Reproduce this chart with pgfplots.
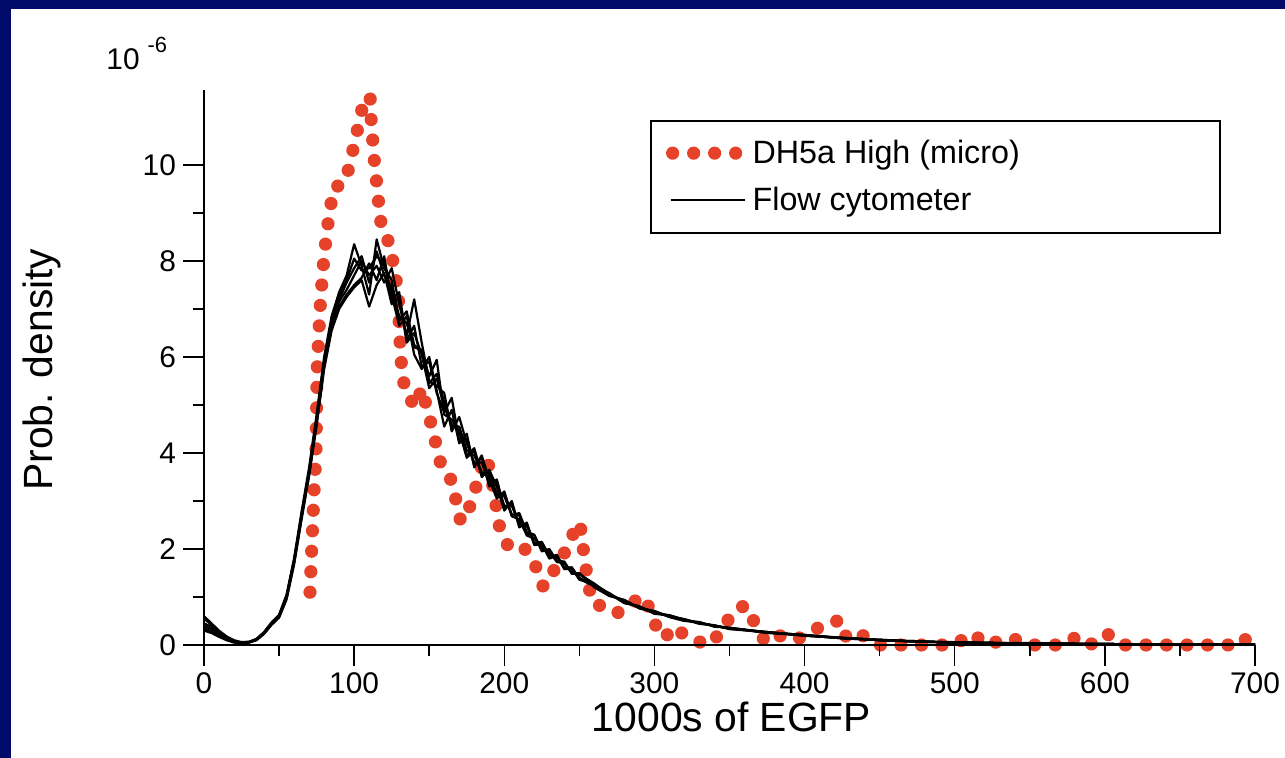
\documentclass[border=0pt]{standalone}
\usepackage{fontspec}
\setmainfont{Liberation Sans}
\usepackage{pgfplots}
\usepackage{pgfplotstable}
\pgfplotsset{compat=1.18}

\definecolor{navy}{RGB}{0,10,105}
\definecolor{dotred}{RGB}{230,66,41}

% flow cytometer runs: x (1000s of EGFP), six overlaid density curves (x 1e-6)
\pgfplotstableread{
x    a     b     c     d     e     f
0    0.55  0.40  0.30  0.60  0.45  0.35
5    0.42  0.33  0.25  0.45  0.38  0.28
10   0.28  0.22  0.17  0.30  0.24  0.20
15   0.16  0.13  0.10  0.18  0.14  0.12
20   0.08  0.07  0.05  0.10  0.07  0.06
25   0.05  0.04  0.04  0.06  0.05  0.04
30   0.06  0.05  0.06  0.07  0.06  0.05
35   0.12  0.11  0.13  0.12  0.12  0.10
40   0.26  0.24  0.27  0.25  0.25  0.23
45   0.46  0.43  0.47  0.45  0.44  0.42
50   0.62  0.58  0.63  0.60  0.61  0.57
55   1.02  0.97  1.05  1.00  1.01  0.95
60   1.78  1.70  1.80  1.74  1.76  1.68
65   2.72  2.65  2.78  2.70  2.68  2.62
70   3.62  3.55  3.70  3.60  3.58  3.52
75   4.72  4.60  4.80  4.68  4.70  4.58
80   5.90  5.78  6.00  5.85  5.92  5.75
85   6.72  6.60  6.85  6.65  6.75  6.55
90   7.20  7.05  7.35  7.15  7.25  7.00
95   7.55  7.30  7.70  7.40  7.60  7.25
100  7.85  7.50  8.35  7.70  8.05  7.45
105  8.10  7.65  7.90  8.00  7.80  7.60
110  7.55  7.95  7.30  7.70  7.85  7.05
115  8.20  7.60  8.45  7.90  8.10  7.50
120  7.70  8.10  7.85  7.55  7.95  7.75
125  7.45  7.20  7.60  7.85  7.30  7.10
130  6.85  7.35  6.75  7.10  6.65  7.25
135  6.70  6.35  6.95  6.45  6.85  6.30
140  6.20  6.65  6.25  7.20  6.05  6.50
145  6.15  5.80  6.10  6.30  5.75  6.05
150  5.45  5.90  5.60  5.50  6.00  5.35
155  5.65  5.25  5.94  5.40  5.30  5.55
160  5.05  4.85  4.80  5.25  4.55  4.95
165  4.55  5.15  4.70  4.45  4.90  4.60
170  4.55  4.25  4.45  4.75  4.20  4.45
175  4.05  4.30  3.95  4.20  4.40  3.90
180  3.95  3.75  4.10  3.80  3.70  4.05
185  3.60  3.90  3.55  3.80  3.95  3.50
190  3.55  3.30  3.60  3.35  3.45  3.65
195  3.15  3.45  3.10  3.40  3.05  3.30
200  3.10  2.85  3.15  2.90  3.20  2.80
205  2.72  2.95  2.68  2.90  2.70  3.00
210  2.70  2.48  2.62  2.52  2.75  2.45
215  2.32  2.52  2.28  2.48  2.35  2.55
220  2.28  2.10  2.22  2.12  2.30  2.08
225  1.98  2.12  2.03  2.15  1.95  2.10
230  1.97  1.83  1.94  1.86  2.00  1.80
235  1.76  1.88  1.73  1.84  1.75  1.86
240  1.72  1.60  1.70  1.62  1.74  1.58
245  1.50  1.62  1.53  1.60  1.48  1.59
250  1.48  1.38  1.47  1.40  1.50  1.36
260  1.26  1.22  1.28  1.24  1.20  1.27
270  1.05  1.08  1.03  1.06  1.02  1.07
280  0.92  0.88  0.93  0.90  0.94  0.87
290  0.78  0.80  0.76  0.79  0.77  0.81
300  0.70  0.66  0.69  0.67  0.71  0.65
310  0.60  0.62  0.59  0.61  0.58  0.62
320  0.53  0.51  0.54  0.52  0.50  0.53
330  0.46  0.47  0.45  0.46  0.48  0.44
340  0.40  0.39  0.41  0.40  0.38  0.41
350  0.35  0.36  0.34  0.35  0.36  0.33
375  0.27  0.26  0.27  0.25  0.26  0.27
400  0.20  0.21  0.19  0.20  0.21  0.20
425  0.15  0.14  0.15  0.14  0.15  0.14
450  0.10  0.11  0.10  0.10  0.11  0.10
475  0.07  0.07  0.08  0.07  0.07  0.08
500  0.05  0.05  0.05  0.06  0.05  0.05
550  0.03  0.03  0.03  0.03  0.04  0.03
600  0.02  0.02  0.02  0.02  0.02  0.02
650  0.01  0.01  0.01  0.01  0.01  0.01
700  0.01  0.01  0.01  0.01  0.01  0.01
}\flowdata

\begin{document}
\begin{tikzpicture}
\useasboundingbox (0,0) rectangle (642.5bp,379bp);
\fill[navy] (0,0) rectangle (642.5bp,379bp);
\fill[white] (5.5bp,0) rectangle (642.5bp,374.5bp);
\node[anchor=base west, inner sep=0, font=\fontsize{15}{18}\selectfont]
  at (53bp,344bp) {10\hspace{4bp}\raisebox{8.5bp}{\fontsize{11}{13}\selectfont -6}};
\begin{axis}[
  at={(102bp,56.5bp)}, anchor=south west,
  scale only axis, width=525.5bp, height=277.5bp,
  xmin=0, xmax=700, ymin=0, ymax=11.5625,
  axis x line=bottom, axis y line=left,
  axis line style={-, line width=1bp, black},
  axis on top, clip=false,
  xtick={0,100,...,700}, ytick={0,2,...,10},
  minor x tick num=1, minor y tick num=1,
  tick align=outside,
  major tick length=10.5bp, minor tick length=5.5bp,
  tick style={line width=0.75bp, black},
  /pgf/number format/assume math mode=true,
  ticklabel style={font=\fontsize{15}{18}\selectfont},
  every axis x label/.style={at={(axis description cs:0.502,-0.13)}, anchor=center},
  every axis y label/.style={at={(axis description cs:-0.154,0.496)}, rotate=90, anchor=center},
  label style={font=\fontsize{20.5}{24}\selectfont},
  xlabel={1000s of EGFP}, ylabel={Prob. density},
  legend cell align=left,
  legend style={at={(0.4244,0.946)}, anchor=north west, draw=black, line width=1bp,
    fill=white, font=\fontsize{16.2}{19}\selectfont, inner xsep=7.5bp, inner ysep=7.5bp, row sep=6.5bp},
]
\addplot[dotred, line width=6.6bp, line cap=round, line join=round,
  dash pattern=on 0pt off 10.25bp,
  legend image code/.code={\draw[dotred, line width=6.6bp, line cap=round, dash pattern=on 0pt off 10.5bp] (-2bp,0bp) -- (31bp,0bp);}]
coordinates {
(70.6,1.1) (73.3,3.2) (74.6,4.0) (75.3,5.7) (77.3,7.0) (79.1,7.8) (81.9,8.65)
(84.1,9.06) (85.7,9.5) (94.1,9.65) (97.4,10.06) (103.4,10.9) (106.1,11.29)
(110.6,11.44) (111.2,11.0) (113.2,10.17) (116.1,9.31) (116.8,8.9) (121.9,8.5)
(125.2,8.1) (129.4,7.33) (130.2,6.5) (132,5.6) (135,5.22) (141,4.96) (145,5.35)
(151.7,4.55) (158,3.73) (165,3.42) (171,2.57) (175,2.71) (179.4,3.1) (186.7,3.92)
(190.5,3.68) (197,2.43) (202.7,2.05) (212.7,2.05) (221.6,1.6) (226,1.21) (230.5,1.42)
(241.6,2.0) (247,2.4) (250.4,2.55) (253.8,1.7) (258.2,0.9) (274.9,0.66) (292,1.02)
(298,0.69) (302.6,0.24) (307,0.15) (312.6,0.38) (323,0.14) (336,0.0) (344.8,0.28)
(351.5,0.66) (360.3,0.83) (367,0.45) (373.6,0.07) (381.4,0.21) (393.6,0.1)
(402.5,0.24) (410.3,0.38) (423.6,0.52) (428,0.14) (437,0.24) (447,0) (500,0)
(511.3,0.24) (522,0) (534.6,0.14) (543.5,0.1) (550,0) (572,0) (581.2,0.17) (590,0)
(601.2,0.24) (612,0) (682,0) (691.2,0.17) (694,0.1)
};
\addlegendentry{\hspace{1.5bp}\makebox[224bp][l]{DH5a High (micro)}}
\addplot[black, line width=1.1bp, line join=round,
  legend image code/.code={\draw[black, line width=1bp] (-3bp,0bp) -- (34bp,0bp);}]
  table[x=x, y=a] {\flowdata};
\addlegendentry{\hspace{1.5bp}Flow cytometer}
\addplot[black, line width=1.1bp, line join=round, forget plot] table[x=x, y=b] {\flowdata};
\addplot[black, line width=1.1bp, line join=round, forget plot] table[x=x, y=c] {\flowdata};
\addplot[black, line width=1.1bp, line join=round, forget plot] table[x=x, y=d] {\flowdata};
\addplot[black, line width=1.1bp, line join=round, forget plot] table[x=x, y=e] {\flowdata};
\addplot[black, line width=1.1bp, line join=round, forget plot] table[x=x, y=f] {\flowdata};
\end{axis}
\end{tikzpicture}
\end{document}
